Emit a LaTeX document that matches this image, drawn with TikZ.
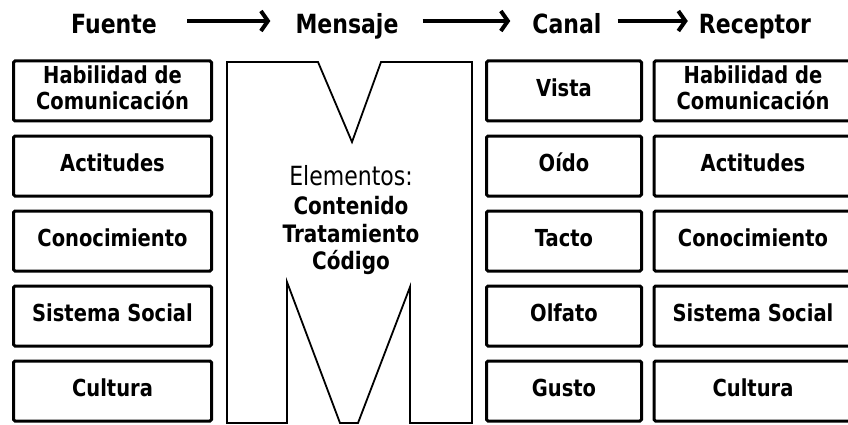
\documentclass[tikz,border=0pt]{standalone}
\usepackage{fontspec}
\setmainfont{DejaVu Sans}
\usetikzlibrary{arrows.meta}
\newcommand{\alto}[1]{\scalebox{1}[1.2]{\begin{tabular}{@{}c@{}}#1\end{tabular}}}

\begin{document}
\begin{tikzpicture}[x=1pt, y=-1pt,
  titulo/.style={font=\fontsize{22}{26}\selectfont\bfseries, inner sep=0pt, text height=24pt, text depth=0pt, anchor=base},
  caja/.style={draw, line width=3pt, rounded corners=1.5pt, inner sep=0pt,
    minimum height=60pt, font=\fontsize{19.5}{19}\selectfont\bfseries},
  ancha/.style={caja, minimum width=198pt},
  angosta/.style={caja, minimum width=155pt},
  flecha/.style={line width=4pt, -{Straight Barb[length=7pt, width=20pt]}}]
	\useasboundingbox (0,0) rectangle (848,425);
	% titulos
	\node[titulo] (fuente) at (114,33) {\alto{Fuente}};
	\node[titulo] (mensaje) at (347,33) {\alto{Mensaje}};
	\node[titulo] (canal) at (567,33) {\alto{Canal}};
	\node[titulo] (receptor) at (755,33) {\alto{Receptor}};
	\draw[flecha, shorten <=30pt, shorten >=25pt] (fuente) -- (mensaje);
	\draw[flecha, shorten <=24pt, shorten >=22pt] (mensaje) -- (canal);
	\draw[flecha, shorten <=16pt, shorten >=11pt] (canal) -- (receptor);
	% fuente
	\node[ancha] (f1) at (112.5,91) {\alto{Habilidad de\\Comunicación}};
	\node[ancha] (f2) at (112.5,166) {\alto{Actitudes}};
	\node[ancha] (f3) at (112.5,241) {\alto{Conocimiento}};
	\node[ancha] (f4) at (112.5,316) {\alto{Sistema Social}};
	\node[ancha] (f5) at (112.5,391) {\alto{Cultura}};
	% la M del mensaje
	\draw[line width=1.8pt, line join=miter] (227,423) -- (227,62) -- (318,62) -- (352,142) -- (381,62)
	  -- (472,62) -- (472,423) -- (410,423) -- (410,287) -- (358,423) -- (340,423) -- (287,282)
	  -- (287,423) -- cycle;
	\node[font=\fontsize{20}{23}\selectfont\bfseries] (elementos) at (351,222)
	  {\alto{{\mdseries\fontsize{22}{23}\selectfont Elementos:}\\[1pt] Contenido\\ Tratamiento\\ Código}};
	% canal
	\node[angosta] (c1) at (564,91) {\alto{Vista}};
	\node[angosta] (c2) at (564,166) {\alto{Oído}};
	\node[angosta] (c3) at (564,241) {\alto{Tacto}};
	\node[angosta] (c4) at (564,316) {\alto{Olfato}};
	\node[angosta] (c5) at (564,391) {\alto{Gusto}};
	% receptor
	\node[ancha] (r1) at (753,91) {\alto{Habilidad de\\Comunicación}};
	\node[ancha] (r2) at (753,166) {\alto{Actitudes}};
	\node[ancha] (r3) at (753,241) {\alto{Conocimiento}};
	\node[ancha] (r4) at (753,316) {\alto{Sistema Social}};
	\node[ancha] (r5) at (753,391) {\alto{Cultura}};
\end{tikzpicture}
\end{document}
